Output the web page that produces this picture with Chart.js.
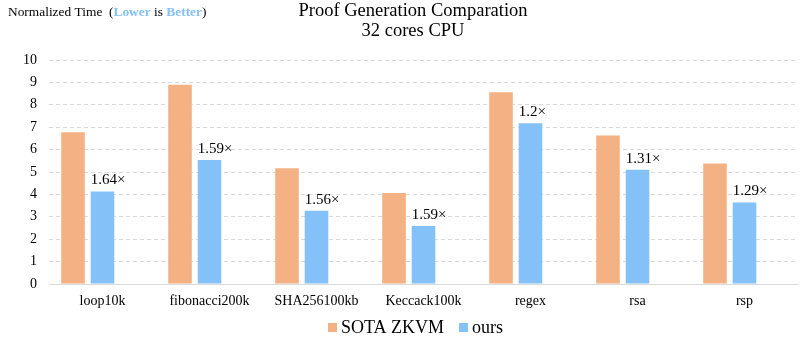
<!DOCTYPE html>
<html>
<head>
<meta charset="utf-8">
<script src="https://cdn.jsdelivr.net/npm/chart.js@4.4.1/dist/chart.umd.min.js"></script>
<style>
  html, body { margin: 0; padding: 0; background: #fff; }
  #wrap { width: 804px; height: 338px; position: relative; }
</style>
</head>
<body>
<div id="wrap"><canvas id="c" width="804" height="338"></canvas></div>
<script>
// ---- data ----
const categories = ['loop10k', 'fibonacci200k', 'SHA256100kb', 'Keccack100k', 'regex', 'rsa', 'rsp'];
const sotaValues = [6.78, 8.89, 5.17, 4.06, 8.56, 6.63, 5.38];
const oursValues = [4.13, 5.54, 3.27, 2.59, 7.18, 5.10, 3.64];
const speedupLabels = ['1.64×', '1.59×', '1.56×', '1.59×', '1.2×', '1.31×', '1.29×'];
const seriesNames = ['SOTA ZKVM', 'ours'];
const yTicks = [0, 1, 2, 3, 4, 5, 6, 7, 8, 9, 10];
const titleLines = ['Proof Generation Comparation', '32 cores CPU'];

const ORANGE = '#F4B183';
const BLUE = '#85C1F9';
const SERIF = '"Liberation Serif", "Times New Roman", serif';

const overlay = {
  id: 'overlay',
  afterDraw(chart) {
    const ctx = chart.ctx;
    ctx.save();
    // title
    ctx.fillStyle = '#000';
    ctx.textAlign = 'center';
    ctx.textBaseline = 'alphabetic';
    ctx.font = '18.5px ' + SERIF;
    ctx.fillText(titleLines[0], 413, 16);
    ctx.fillText(titleLines[1], 413, 36);

    // top-left note
    ctx.textAlign = 'left';
    let x = 8;
    const y = 16;
    const parts = [
      ['Normalized Time  (', '#000', ''],
      ['Lower', BLUE, 'bold '],
      [' is ', '#000', ''],
      ['Better', BLUE, 'bold '],
      [')', '#000', '']
    ];
    for (const [t, c, w] of parts) {
      ctx.font = w + '13.4px ' + SERIF;
      ctx.fillStyle = c;
      ctx.fillText(t, x, y);
      x += ctx.measureText(t).width;
    }

    // speedup labels above "ours" bars
    const meta = chart.getDatasetMeta(1);
    ctx.font = '15px ' + SERIF;
    ctx.fillStyle = '#000';
    ctx.textAlign = 'left';
    meta.data.forEach((bar, i) => {
      const p = bar.getProps(['x', 'y', 'width'], true);
      ctx.fillText(speedupLabels[i], p.x - p.width / 2, p.y - 7);
    });

    // legend
    ctx.font = '18px ' + SERIF;
    const colors = [ORANGE, BLUE];
    let lx = 328;
    const ly = 333;
    seriesNames.forEach((name, i) => {
      ctx.fillStyle = colors[i];
      ctx.fillRect(lx, ly - 10, 9, 9);
      lx += 13;
      ctx.fillStyle = '#000';
      ctx.fillText(name, lx, ly);
      lx += ctx.measureText(name).width + 15;
    });
    ctx.restore();
  }
};

new Chart(document.getElementById('c'), {
  type: 'bar',
  data: {
    labels: categories,
    datasets: [
      { label: seriesNames[0], data: sotaValues, backgroundColor: ORANGE },
      { label: seriesNames[1], data: oursValues, backgroundColor: BLUE },
      { label: '', data: categories.map(() => null), backgroundColor: 'transparent' }
    ]
  },
  options: {
    responsive: false,
    animation: false,
    devicePixelRatio: 1,
    categoryPercentage: 0.827,
    barPercentage: 0.8,
    layout: { padding: { top: 60, right: 6, left: 0, bottom: 0 } },
    plugins: {
      legend: { display: false },
      title: { display: false },
      tooltip: { enabled: false }
    },
    scales: {
      x: {
        grid: { display: false, drawTicks: false },
        border: { display: true, color: '#d9d9d9', width: 1 },
        ticks: { color: '#000', font: { family: SERIF, size: 14 }, padding: 9, maxRotation: 0, autoSkip: false },
        afterFit(s) { s.height = 54; }
      },
      y: {
        min: 0,
        max: 10,
        afterBuildTicks(s) { s.ticks = yTicks.map(v => ({ value: v })); },
        grid: {
          drawTicks: false,
          color: c => (c.tick && c.tick.value === 0) ? 'rgba(0,0,0,0)' : '#d9d9d9',
          lineWidth: 1
        },
        border: { display: false, dash: [4, 3] },
        ticks: { color: '#000', font: { family: SERIF, size: 14 }, padding: 12 },
        afterFit(s) { s.width = 49; }
      }
    }
  },
  plugins: [overlay]
});
</script>
</body>
</html>
